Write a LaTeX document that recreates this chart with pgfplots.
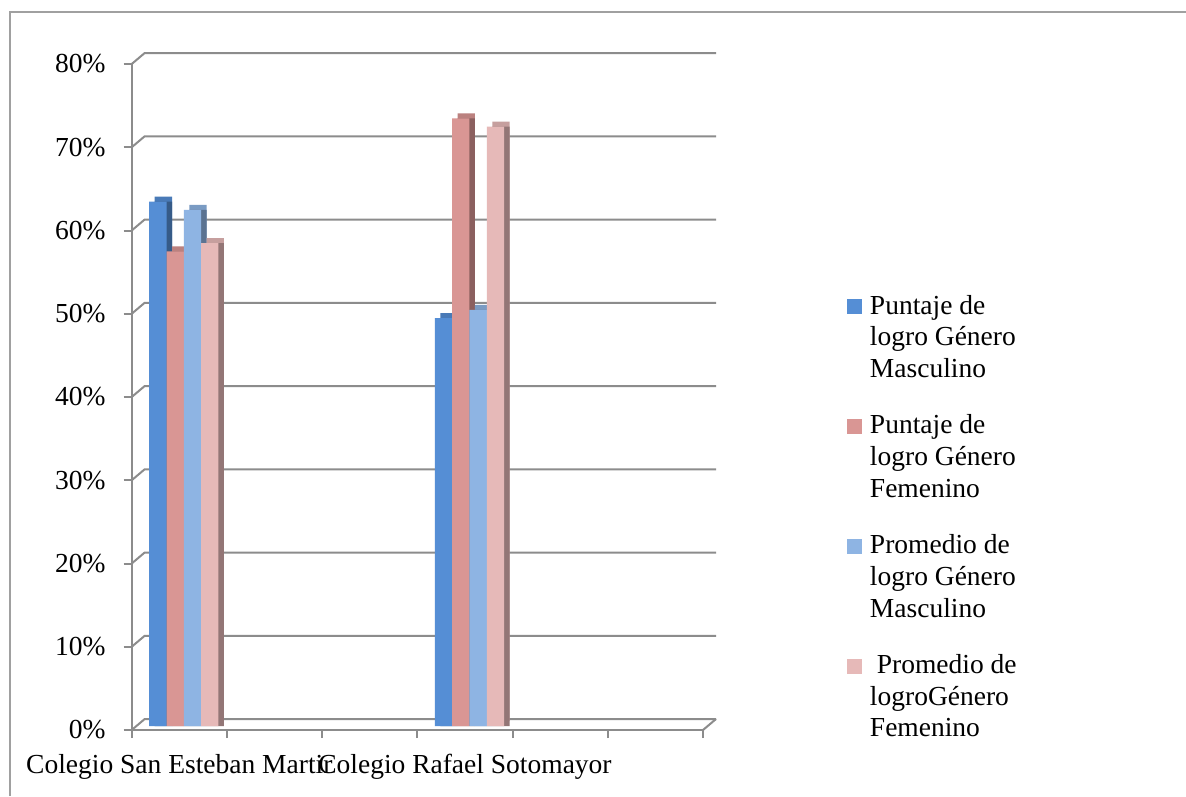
\documentclass[border=0pt]{standalone}
\usepackage{pgfplots}
\pgfplotsset{compat=1.18}
\usepackage{pgfplotstable}
\usepackage{fontspec}
\setmainfont{Liberation Serif}
\definecolor{gridc}{HTML}{8C8C8C}
\definecolor{framec}{HTML}{A0A0A0}
\definecolor{cA}{HTML}{558ED5}
\definecolor{cB}{HTML}{D99694}
\definecolor{cC}{HTML}{8EB4E3}
\definecolor{cD}{HTML}{E6B9B8}

\pgfplotstableread{
x A B C D
0 63 57 62 58
3 49 73 50 72
}\datatable

\begin{document}
\begin{tikzpicture}[x=1pt,y=1pt]
\path[use as bounding box, fill=white] (0,0) rectangle (1186,-796);
\draw[framec, line width=2pt] (10,-796) -- (10,-11.7) -- (1186,-11.7);
\begin{axis}[
  at={(131.7pt,-730pt)}, anchor=south west,
  scale only axis, width=571.3pt, height=666pt,
  xmin=-0.5, xmax=5.5, ymin=0, ymax=80,
  clip=false,
  axis x line*=bottom, axis y line*=left,
  axis line style={gridc, line width=2pt, -},
  tick align=outside, major tick length=8pt,
  tick style={gridc, line width=2pt},
  xtick={-0.5,0.5,1.5,2.5,3.5,4.5,5.5},
  xticklabels={,,,,,,},
  extra x ticks={0,3},
  extra x tick labels={Colegio San Esteban Martir, Colegio Rafael Sotomayor},
  extra x tick style={major tick length=0pt},
  ytick={0,10,...,80},
  yticklabels={0\%,10\%,20\%,30\%,40\%,50\%,60\%,70\%,80\%},
  every tick label/.append style={font=\fontsize{27.5pt}{31.7pt}\selectfont, inner sep=0pt},
  yticklabel style={anchor=east, xshift=-18pt},
  xticklabel style={anchor=north, yshift=-24pt},
  legend style={draw=none, fill=none, inner sep=0pt, outer sep=0pt,
    at={(axis description cs:1.252,0.656)}, anchor=north west,
    font=\fontsize{27.5pt}{31.7pt}\selectfont,
    cells={anchor=base west, inner sep=0pt},
    row sep=95.2pt, column sep=6pt},
  legend image code/.code={\fill[#1, xshift=-4.5pt, yshift=-4pt] (0pt,0pt) rectangle (15pt,15pt);},
]
\pgfplotsinvokeforeach{0,10,20,30,40,50,60,70,80}{
  \draw[gridc, line width=2pt] (axis cs:-0.5,#1) -- ++(13pt,11pt) -- ([xshift=13pt,yshift=11pt]axis cs:5.5,#1);
}
\draw[gridc, line width=2pt] (axis cs:5.5,0) -- ++(13pt,11pt);

% series A
\addplot[ybar, bar width=17.3pt, bar shift=-25.95pt, draw=none, fill=cA!86!black, forget plot, xshift=10pt, yshift=9pt] table[x=x,y=A]{\datatable};
\addplot[ybar, bar width=17.3pt, bar shift=-25.95pt, draw=none, fill=cA!64!black, forget plot, xshift=10pt, yshift=4pt] table[x=x,y=A]{\datatable};
\addplot[ybar, bar width=17.3pt, bar shift=-25.95pt, draw=none, fill=cA, xshift=4.5pt, yshift=4pt] table[x=x,y=A]{\datatable};
\addlegendentry{\parbox[t]{180pt}{\raggedright Puntaje de\\logro Género\\Masculino}}
% series B
\addplot[ybar, bar width=17.3pt, bar shift=-8.65pt, draw=none, fill=cB!86!black, forget plot, xshift=10pt, yshift=9pt] table[x=x,y=B]{\datatable};
\addplot[ybar, bar width=17.3pt, bar shift=-8.65pt, draw=none, fill=cB!64!black, forget plot, xshift=10pt, yshift=4pt] table[x=x,y=B]{\datatable};
\addplot[ybar, bar width=17.3pt, bar shift=-8.65pt, draw=none, fill=cB, xshift=4.5pt, yshift=4pt] table[x=x,y=B]{\datatable};
\addlegendentry{\parbox[t]{180pt}{\raggedright Puntaje de\\logro Género\\Femenino}}
% series C
\addplot[ybar, bar width=17.3pt, bar shift=8.65pt, draw=none, fill=cC!86!black, forget plot, xshift=10pt, yshift=9pt] table[x=x,y=C]{\datatable};
\addplot[ybar, bar width=17.3pt, bar shift=8.65pt, draw=none, fill=cC!64!black, forget plot, xshift=10pt, yshift=4pt] table[x=x,y=C]{\datatable};
\addplot[ybar, bar width=17.3pt, bar shift=8.65pt, draw=none, fill=cC, xshift=4.5pt, yshift=4pt] table[x=x,y=C]{\datatable};
\addlegendentry{\parbox[t]{180pt}{\raggedright Promedio de\\logro Género\\Masculino}}
% series D
\addplot[ybar, bar width=17.3pt, bar shift=25.95pt, draw=none, fill=cD!86!black, forget plot, xshift=10pt, yshift=9pt] table[x=x,y=D]{\datatable};
\addplot[ybar, bar width=17.3pt, bar shift=25.95pt, draw=none, fill=cD!64!black, forget plot, xshift=10pt, yshift=4pt] table[x=x,y=D]{\datatable};
\addplot[ybar, bar width=17.3pt, bar shift=25.95pt, draw=none, fill=cD, xshift=4.5pt, yshift=4pt] table[x=x,y=D]{\datatable};
\addlegendentry{\parbox[t]{180pt}{\raggedright \ Promedio de\\logroGénero\\Femenino}}
\end{axis}
\end{tikzpicture}
\end{document}
